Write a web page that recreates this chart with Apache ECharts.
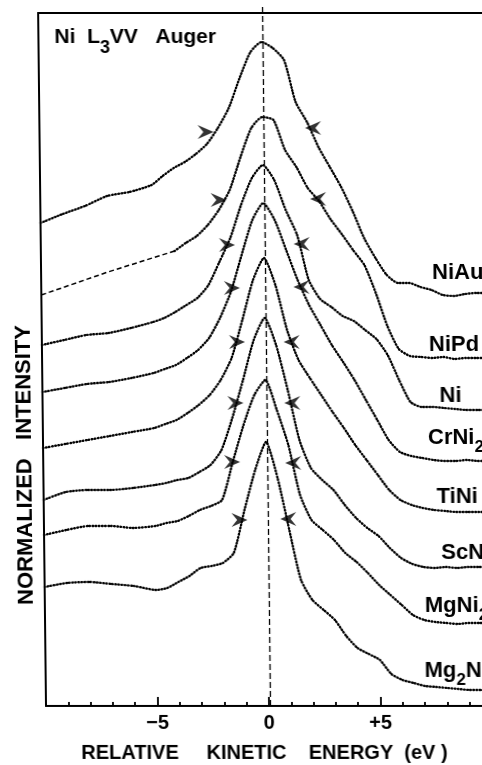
<!DOCTYPE html>
<html><head><meta charset="utf-8">
<script src="https://cdn.jsdelivr.net/npm/echarts@6/dist/echarts.min.js"></script>
<style>
html,body{margin:0;padding:0;background:#fff;overflow:hidden;width:482px;height:765px;}
#c{width:495px;height:765px;transform:skewX(0.65deg);transform-origin:0 706px;}
</style></head><body><div id="c"></div>
<script>
// Relative kinetic energy (eV) sample positions
const energy = [-10,-9,-8,-7,-6,-5,-4.5,-4,-3.5,-3,-2.5,-2,-1.5,-1,-0.5,0,0.5,1,1.5,2,2.5,3,3.5,4,4.5,5,5.5,6,6.5,7,7.5,8,8.5,9,9.5,10];
const samples = ['NiAu','NiPd','Ni','CrNi2','TiNi','ScNi','MgNi2','Mg2Ni'];
// normalized intensity incl. vertical offset (arbitrary units)
const NiAu  = [483,492,500,510,514,521,530,538,544,552,562,578,598,628,654,664,658,646,604,584,559,539,519,495,468,448,431,423,423,419,416,411,410,412,413,413];
const NiPd  = [null,null,null,null,null,null,null,455,463,470,481,496,516,549,578,589,586,556,539,518,505,487,472,456,441,413,380,357,350,349,348,349,347,348,348,348];
const Ni    = [361,366,371,373,378,384,388,394,401,408,421,444,468,501,528,541,526,496,471,426,407,399,390,385,376,367,351,326,304,299,299,298,297,296,296,296];
const CrNi2 = [314,318,322,324,328,333,337,341,348,356,368,388,414,451,486,503,486,456,426,401,381,361,344,326,306,286,266,254,250,248,246,245,245,246,245,245];
const TiNi  = [258,262,266,270,274,278,282,286,293,301,311,326,348,386,426,448,421,376,346,328,311,294,278,261,246,231,216,206,201,198,196,195,194,194,194,194];
const ScNi  = [206,214,216,216,218,221,223,226,228,234,241,256,288,326,366,388,361,316,266,238,226,216,201,188,178,170,158,148,142,139,138,139,138,139,139,139];
const MgNi2 = [171,176,180,180,178,180,183,185,190,196,200,206,244,281,311,326,296,261,211,186,176,166,153,144,133,121,111,101,91,86,84,83,82,83,83,83];
const Mg2Ni = [119,123,124,122,120,116,118,124,130,138,140,143,153,196,236,264,228,176,126,106,96,86,70,58,52,46,32,26,23,20,19,18,17,16,16,15];
// extrapolated (dashed) background under NiPd
const bgEnergy = [-10,-7,-4];
const bgNiPd   = [411,434,455];
// half-width markers
const halfLeftE  = [-2.55,-2.00,-1.65,-1.45,-1.25,-1.35,-1.53,-1.23];
const halfLeftI  = [574,506,461,418,364,303,244,186];
const halfRightE = [2.27,2.46,1.70,1.67,1.20,1.20,1.21,0.96];
const halfRightI = [578,507,462,419,364,303,243,187];
const xTicks = [-5,0,5];
const zeroLineE = [0,0];
const zeroLineY = [0,1];

const FONT = '"Liberation Sans", Arial, sans-serif';
const curves = [NiAu,NiPd,Ni,CrNi2,TiNi,ScNi,MgNi2,Mg2Ni];
const labelOffsets = [[-55,-20],[-59,-13],[-49,-14],[-61,-23],[-53,-15],[-49,-14],[-66,-17],[-67,-20]];
const richLab = {m:{fontSize:22,fontWeight:'bold',lineHeight:36,verticalAlign:'middle',fontFamily:FONT,color:'#000'},
                 s:{fontSize:17,fontWeight:'bold',lineHeight:17,verticalAlign:'bottom',fontFamily:FONT,color:'#000'}};
function sub(name){ return '{m|' + name.replace(/(\d)/g,'}{s|$1}{m|') + '}'; }

const dotted = {color:'#000', width:2.4, type:[0.6,2.5], cap:'round'};
const series = [];
curves.forEach((vals,i)=>{
  series.push({
    type:'line', name:samples[i], silent:true, animation:false,
    data: energy.map((e,j)=>[e, vals[j]]).filter(p=>p[1]!==null),
    showSymbol:false, symbol:'none', smooth:0.2,
    lineStyle: dotted,
    endLabel:{show:true, formatter: sub(samples[i]), offset: labelOffsets[i], distance:0,
      align:'left', verticalAlign:'middle', rich: richLab}
  });
});
series.push({
  type:'line', name:'bg', silent:true, animation:false, symbol:'none', showSymbol:false,
  data: bgEnergy.map((e,j)=>[e,bgNiPd[j]]),
  lineStyle:{color:'#000', width:1.5, type:[5,3]}
});
series.push({
  type:'line', name:'zero', xAxisIndex:2, yAxisIndex:1, silent:true, animation:false, symbol:'none', showSymbol:false,
  data: zeroLineE.map((e,j)=>[e,zeroLineY[j]]),
  lineStyle:{color:'#000', width:1.3, type:[6,3]}
});
const leftSym = 'path://M0,0L14,6.5L0,13L5,6.5Z';
const rightSym = 'path://M14,0L0,6.5L14,13L9,6.5Z';
series.push({type:'scatter', silent:true, animation:false, symbol:leftSym, symbolSize:[16,14], z:5,
  itemStyle:{color:'#000'}, data: halfLeftE.map((e,i)=>[e,halfLeftI[i]])});
series.push({type:'scatter', silent:true, animation:false, symbol:rightSym, symbolSize:[16,14], z:5,
  itemStyle:{color:'#000'}, data: halfRightE.map((e,i)=>[e,halfRightI[i]])});

const chart = echarts.init(document.getElementById('c'));
chart.setOption({
  backgroundColor:'#fff',
  animation:false,
  grid:[{left:46, right:0, top:13, bottom:59, containLabel:false},
        {left:46, right:0, top:5, bottom:59, containLabel:false}],
  xAxis:[{
    type:'value', min:-10, max:10, interval:5, position:'bottom',
    axisLine:{show:true, onZero:false, lineStyle:{color:'#000', width:2}},
    axisTick:{show:true, inside:true, length:9, lineStyle:{color:'#000', width:1.8}},
    minorTick:{show:true, splitNumber:5, length:4, lineStyle:{color:'#000', width:1.8}},
    splitLine:{show:false},
    axisLabel:{show:true, margin:7, color:'#000', fontSize:20, fontWeight:'bold', fontFamily:FONT,
      formatter:v=> xTicks.indexOf(v)<0 ? '' : (v===0?'0':(v>0?'+'+v:'\u2212'+Math.abs(v)))}
  },{
    type:'value', min:-10, max:10, position:'top',
    axisLine:{show:true, onZero:false, lineStyle:{color:'#000', width:2}},
    axisTick:{show:false}, axisLabel:{show:false}, splitLine:{show:false}
  },{
    type:'value', gridIndex:1, min:-10, max:10, show:false
  }],
  yAxis:[{type:'value', min:0, max:693,
    axisLine:{show:true, onZero:false, lineStyle:{color:'#000', width:2}},
    axisTick:{show:false}, axisLabel:{show:false}, splitLine:{show:false}},
    {type:'value', gridIndex:1, min:0, max:1, show:false}],
  graphic:[
    {type:'text', left:62, top:27, silent:true,
     style:{text:'{m|Ni  L}{s|3}{m|VV   Auger}', rich:{
        m:{fontSize:21,fontWeight:'bold',lineHeight:40,verticalAlign:'middle',fontFamily:FONT,fill:'#000',color:'#000'},
        s:{fontSize:18,fontWeight:'bold',lineHeight:16,verticalAlign:'bottom',fontFamily:FONT,fill:'#000',color:'#000'}}}},
    {type:'text', x:28, y:465, rotation:Math.PI/2, silent:true,
     style:{text:'NORMALIZED   INTENSITY', fontSize:22, fontWeight:'bold', fontFamily:FONT, fill:'#000', align:'center', verticalAlign:'middle'}},
    {type:'text', x:264, y:753, silent:true,
     style:{text:'RELATIVE     KINETIC    ENERGY  (eV )', fontSize:20, fontWeight:'bold', fontFamily:FONT, fill:'#000', align:'center', verticalAlign:'middle'}}
  ],
  series: series
});
</script></body></html>
